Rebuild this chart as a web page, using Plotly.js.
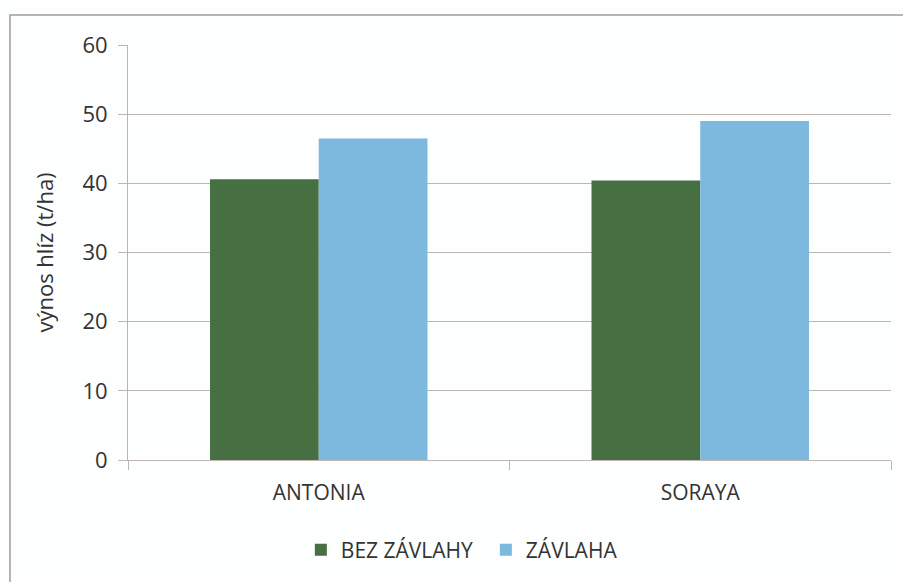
<!DOCTYPE html>
<html>
<head>
<meta charset="utf-8">
<script src="https://cdn.plot.ly/plotly-3.0.1.min.js"></script>
<style>html,body{margin:0;padding:0;background:#fdfefe;}</style>
</head>
<body>
<div id="chart" style="width:903px;height:582px;"></div>
<script>
const categories = ["ANTONIA", "SORAYA"];
const seriesNames = ["BEZ ZÁVLAHY", "ZÁVLAHA"];
const bezZavlahy = [40.6, 40.4];
const zavlaha = [46.5, 49.0];
const yTicks = [0, 10, 20, 30, 40, 50, 60];

const font = {family: "Open Sans, Liberation Sans, sans-serif", color: "#333333"};
const gridColor = "#BDB5AF";

const data = [
  {type: "bar", name: seriesNames[0], x: categories, y: bezZavlahy, marker: {color: "#467041"}},
  {type: "bar", name: seriesNames[1], x: categories, y: zavlaha, marker: {color: "#7DB8DF"}}
];

const layout = {
  width: 903, height: 582,
  paper_bgcolor: "#fdfefe", plot_bgcolor: "#fdfefe",
  margin: {l: 128, r: 12, t: 45, b: 122},
  barmode: "group", bargap: 0.43, bargroupgap: 0,
  font: Object.assign({size: 20}, font),
  xaxis: {
    type: "category",
    showgrid: false, showline: true, linecolor: gridColor, linewidth: 1,
    ticks: "outside", tickson: "boundaries", ticklen: 9, tickcolor: gridColor,
    tickfont: Object.assign({size: 21}, font),
    ticklabelstandoff: 14,
    zeroline: false
  },
  yaxis: {
    range: [0, 60], tickvals: yTicks,
    showgrid: true, gridcolor: gridColor, gridwidth: 1,
    showline: true, linecolor: gridColor, linewidth: 1,
    ticks: "outside", ticklen: 9, tickcolor: gridColor,
    tickfont: Object.assign({size: 22}, font),
    ticklabelstandoff: 6,
    zeroline: false,
    title: {text: "výnos hlíz (t/ha)", font: Object.assign({size: 22}, font), standoff: 22}
  },
  legend: {
    orientation: "h", x: 0.469, xanchor: "center", y: -0.217, yanchor: "middle",
    font: Object.assign({size: 21}, font), itemclick: false,
    entrywidth: 140, entrywidthmode: "pixels"
  },
  shapes: [{
    type: "rect", xref: "paper", yref: "paper",
    x0: -0.1547, x1: 1.05, y0: -0.5, y1: 1.0723,
    line: {color: "#A39C97", width: 1.5}, fillcolor: "rgba(0,0,0,0)", layer: "below"
  }]
};

Plotly.newPlot("chart", data, layout, {displayModeBar: false, staticPlot: true});
</script>
</body>
</html>
